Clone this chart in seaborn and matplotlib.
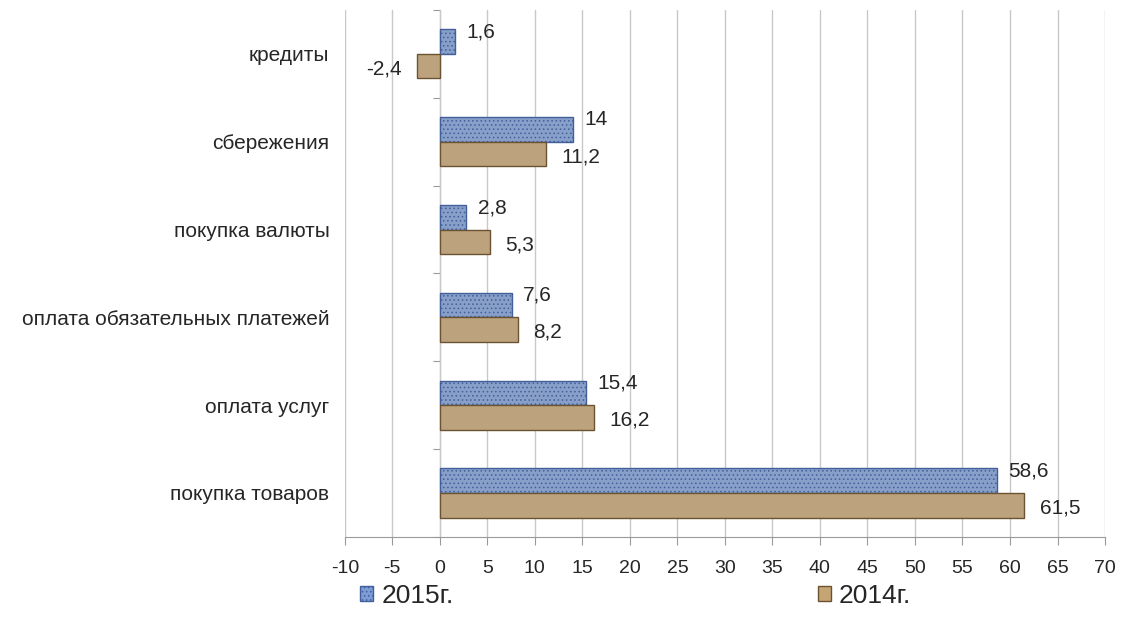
import matplotlib
matplotlib.use("Agg")
import pandas as pd
import seaborn as sns
from matplotlib import pyplot as plt
from matplotlib.patches import Patch

# данные
categories = ["кредиты", "сбережения", "покупка валюты",
              "оплата обязательных платежей", "оплата услуг", "покупка товаров"]
years = ["2015г.", "2014г."]
values_2015 = [1.6, 14, 2.8, 7.6, 15.4, 58.6]
values_2014 = [-2.4, 11.2, 5.3, 8.2, 16.2, 61.5]
x_ticks = list(range(-10, 75, 5))

colors = {"2015г.": "#7d9cd5", "2014г.": "#c6a574"}
edges = {"2015г.": "#41609a", "2014г.": "#6b5230"}
hatches = {"2015г.": "....", "2014г.": ""}

df = pd.DataFrame({
    "category": categories * 2,
    "year": [years[0]] * len(categories) + [years[1]] * len(categories),
    "value": values_2015 + values_2014,
})

sns.set_style("white")
plt.rcParams["font.family"] = ["Liberation Sans", "DejaVu Sans"]
plt.rcParams["hatch.linewidth"] = 0.6

fig = plt.figure(figsize=(11.23, 6.25), dpi=100)
ax = fig.add_axes([0.307, 0.141, 0.677, 0.843])

sns.barplot(data=df, x="value", y="category", hue="year", order=categories,
            hue_order=years, palette=colors, orient="h", width=0.56,
            legend=False, ax=ax)

# оформление столбцов + подписи
for container, year in zip(ax.containers, years):
    for bar in container:
        bar.set_edgecolor(edges[year])
        bar.set_linewidth(1.0)
        bar.set_hatch(hatches[year])
        w = bar.get_width()
        yc = bar.get_y() + bar.get_height() / 2
        label = f"{w:g}".replace(".", ",")
        dy = 7 if year == years[0] else -2
        dx = 8 if year == years[0] else 11
        if w >= 0:
            ax.annotate(label, (w, yc), xytext=(dx, dy), textcoords="offset points",
                        ha="left", va="center", fontsize=15)
        else:
            ax.annotate(label, (w, yc), xytext=(-11, dy), textcoords="offset points",
                        ha="right", va="center", fontsize=15)

ax.set_xlim(-10, 70)
ax.set_ylim(len(categories) - 0.5, -0.5)
ax.set_xticks(x_ticks)
ax.set_xticklabels([str(t) for t in x_ticks], fontsize=14)
ax.tick_params(axis="x", length=6, color="#9a9a9a", pad=11, bottom=True)
ax.tick_params(axis="y", length=0, labelsize=15, pad=11)
ax.set_xlabel("")
ax.set_ylabel("")
ax.grid(axis="x", color="#c8c8c8", linewidth=1)
ax.set_axisbelow(True)
for side in ["top", "right", "left"]:
    ax.spines[side].set_visible(False)
ax.spines["bottom"].set_color("#9a9a9a")

# ось категорий в точке 0
sec = ax.secondary_yaxis((0 - x_ticks[0]) / (x_ticks[-1] - x_ticks[0]))
sec.set_yticks([i - 0.5 for i in range(len(categories) + 1)])
sec.set_yticklabels([])
sec.tick_params(length=5, color="#9a9a9a")
sec.spines["left"].set_color("#9a9a9a")

handles = [Patch(facecolor=colors[y], edgecolor=edges[y], hatch=hatches[y], label=y)
           for y in years]
fig.legend(handles=handles, loc="center", bbox_to_anchor=(0.566, 0.046), ncol=2,
           frameon=False, fontsize=19, handlelength=0.5, handleheight=0.5,
           columnspacing=13.8, handletextpad=0.3)

plt.savefig("out.png", dpi=100)
